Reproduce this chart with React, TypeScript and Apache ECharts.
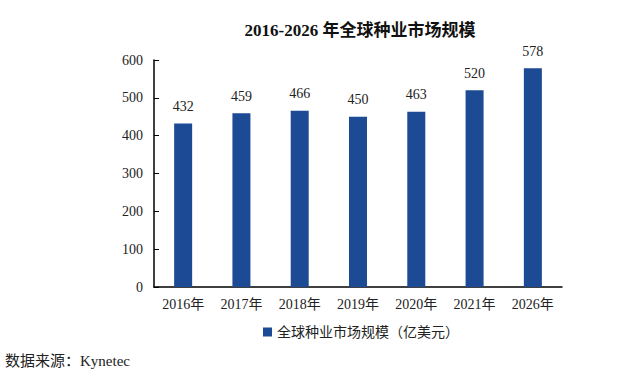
import React, { useEffect, useRef } from "react";
import * as echarts from "echarts";

const categories = ["2016年", "2017年", "2018年", "2019年", "2020年", "2021年", "2026年"];
const values = [432, 459, 466, 450, 463, 520, 578];
const seriesName = "全球种业市场规模（亿美元）";
const titleText = "2016-2026 年全球种业市场规模";
const sourceText = "数据来源：Kynetec";

const FONT = "'Liberation Serif', 'Times New Roman', 'Noto Sans CJK SC', serif";

export default function App() {
  const ref = useRef<HTMLDivElement>(null);
  useEffect(() => {
    if (!ref.current) return;
    const chart = echarts.init(ref.current, null, { renderer: "svg" });
    chart.setOption({
      animation: false,
      backgroundColor: "#ffffff",
      title: {
        text: titleText,
        left: 355,
        textAlign: "center",
        top: 17,
        textStyle: { fontFamily: FONT, fontSize: 17, fontWeight: "bold", color: "#111" },
      },
      legend: {
        data: [seriesName],
        left: 258,
        top: 320,
        itemWidth: 9,
        itemHeight: 9,
        icon: "rect",
        textStyle: { fontFamily: FONT, fontSize: 14, color: "#222" },
      },
      graphic: [
        {
          type: "text",
          left: 5,
          top: 353,
          style: { text: sourceText, font: `15px ${FONT}`, fill: "#222" },
        },
      ],
      grid: { left: 154, right: 78, top: 60, bottom: 89 },
      xAxis: {
        type: "category",
        data: categories,
        axisLine: { lineStyle: { color: "#000", width: 1.5 } },
        axisTick: { inside: true, length: 5, lineStyle: { color: "#000" } },
        axisLabel: { fontFamily: FONT, fontSize: 14, color: "#222", margin: 10 },
      },
      yAxis: {
        type: "value",
        min: 0,
        max: 600,
        interval: 100,
        axisLine: { show: true, lineStyle: { color: "#000", width: 1.5 } },
        axisTick: { show: true, inside: true, length: 5, lineStyle: { color: "#000" } },
        splitLine: { show: false },
        axisLabel: { fontFamily: FONT, fontSize: 14, color: "#222", margin: 11 },
      },
      series: [
        {
          name: seriesName,
          type: "bar",
          data: values,
          barWidth: 18,
          itemStyle: { color: "#1c4a94" },
          label: {
            show: true,
            position: "top",
            distance: 10,
            fontFamily: FONT,
            fontSize: 14,
            color: "#222",
          },
        },
      ],
    });
    return () => chart.dispose();
  }, []);
  return (
    <div
      ref={ref}
      style={{ position: "fixed", left: 0, top: 0, width: 640, height: 376, background: "#fff" }}
    />
  );
}
